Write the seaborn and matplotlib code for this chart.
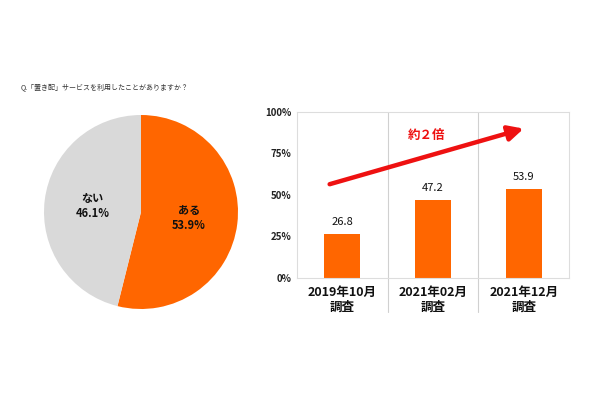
import matplotlib
matplotlib.use('Agg')
import matplotlib.pyplot as plt
import seaborn as sns
import pandas as pd

# data
pie_labels = ['ある', 'ない']
pie_values = [53.9, 46.1]
pie_colors = ['#FF6600', '#D9D9D9']

surveys = ['2019年10月\n調査', '2021年02月\n調査', '2021年12月\n調査']
rates = [26.8, 47.2, 53.9]
y_ticks = [0, 25, 50, 75, 100]

title = 'Q.「置き配」サービスを利用したことがありますか？'

sns.set_style('white')
plt.rcParams['font.family'] = ['Noto Sans CJK JP', 'DejaVu Sans']

fig = plt.figure(figsize=(6, 3.99), dpi=100)
fig.text(21 / 600, 1 - 87 / 399, title, fontsize=5, va='center', ha='left',
         color='#333333')

# pie
ax1 = fig.add_axes([44 / 600, 1 - 309 / 399, 194 / 600, 194 / 399])
pie_text = [f'{l}\n{v}%' for l, v in zip(pie_labels, pie_values)]
wedges, texts = ax1.pie(pie_values, colors=pie_colors, startangle=90,
                        counterclock=False, labels=pie_text,
                        labeldistance=0.5,
                        wedgeprops=dict(linewidth=0),
                        textprops=dict(fontsize=8, fontweight='bold',
                                       color='#111111', ha='center',
                                       va='center', linespacing=1.2))
ax1.set_xlim(-1, 1)
ax1.set_ylim(-1, 1)
ax1.set_aspect('equal')

# bars
ax2 = fig.add_axes([297 / 600, 1 - 278 / 399, 272 / 600, 166 / 399])
df = pd.DataFrame({'survey': surveys, 'rate': rates})
sns.barplot(data=df, x='survey', y='rate', color='#FF6600', width=0.4,
            saturation=1, linewidth=0, ax=ax2)
ax2.set_xlim(-0.5, 2.5)
ax2.set_ylim(0, 100)
ax2.set_yticks(y_ticks)
ax2.set_yticklabels([f'{t}%' for t in y_ticks], fontsize=7,
                    fontweight='bold', color='#222222')
ax2.set_xticklabels(surveys, fontsize=9, fontweight='bold', color='#111111',
                    linespacing=1.1)
ax2.tick_params(axis='y', length=0, pad=4)
ax2.tick_params(axis='x', length=0, pad=6)
ax2.set_xlabel('')
ax2.set_ylabel('')
for s in ax2.spines.values():
    s.set_color('#DDDDDD')
    s.set_linewidth(0.8)
for xs in [0.5, 1.5]:
    ax2.axvline(xs, ymin=-0.205, ymax=1, color='#D0D0D0', lw=0.8,
                clip_on=False)

for i, v in enumerate(rates):
    ax2.text(i, v + 4, f'{v}', ha='center', va='bottom', fontsize=8,
             color='#111111')

ax2.annotate('', xy=(2.0, 90), xytext=(-0.14, 56.5),
             arrowprops=dict(arrowstyle='-|>,head_length=0.9,head_width=0.45',
                             color='#EE1111', lw=3.2, shrinkA=0, shrinkB=0))
ax2.text(0.93, 86, '約２倍', ha='center', va='center', fontsize=9,
         fontweight='bold', color='#EE1111')

fig.savefig('out.png', dpi=100)
